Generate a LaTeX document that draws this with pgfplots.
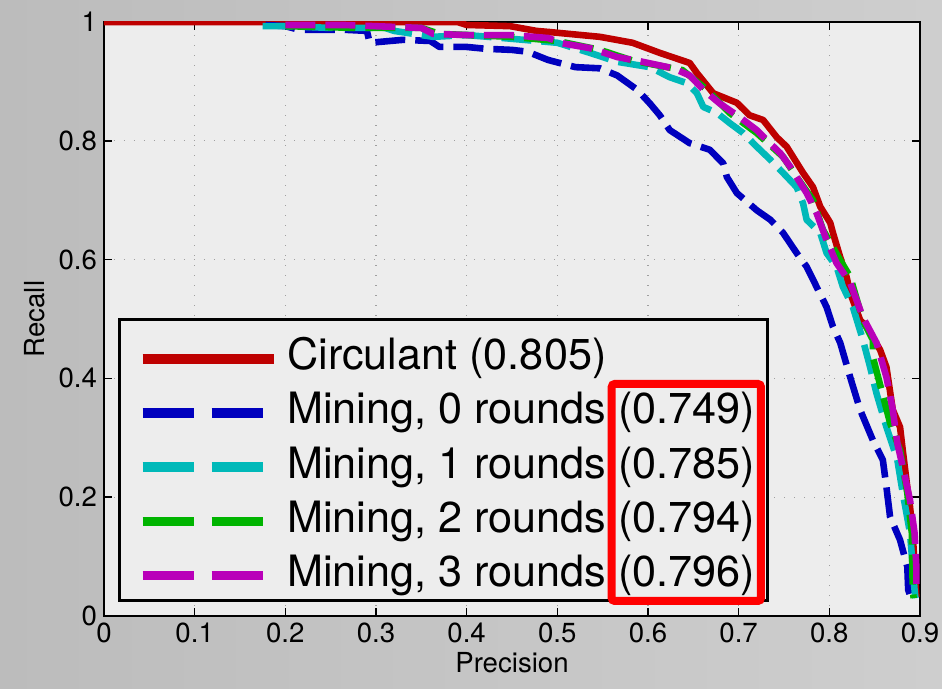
\documentclass[border=0pt]{standalone}
\usepackage{fontspec}
\setmainfont{TeX Gyre Heros}
\usepackage{pgfplots}
\pgfplotsset{compat=1.18}

\definecolor{cred}{RGB}{190,0,0}
\definecolor{cblue}{RGB}{0,0,190}
\definecolor{ccyan}{RGB}{0,185,185}
\definecolor{cgreen}{RGB}{0,180,0}
\definecolor{cmag}{RGB}{185,0,185}
\definecolor{bgL}{RGB}{188,188,188}
\definecolor{bgM}{RGB}{226,226,226}
\definecolor{bgR}{RGB}{206,206,206}

\pgfplotsset{
  dashleg/.style={legend image code/.code={
    \path (0pt,0pt);
    \draw[##1, line width=4.8pt, dash pattern=on 25.5pt off 9pt] (5pt,-3.5pt) -- (65pt,-3.5pt);}},
  solidleg/.style={legend image code/.code={
    \path (0pt,0pt);
    \draw[##1, line width=4.8pt, solid] (5pt,-3.5pt) -- (70.5pt,-3.5pt);}},
  curve/.style={line width=3.3pt, line join=round, mark=none},
  dcurve/.style={curve, dash pattern=on 15pt off 5pt},
}

\begin{document}
\begin{tikzpicture}
\shade[left color=bgL, middle color=bgM, right color=bgR] (-52pt,-36.5pt) rectangle (419pt,308pt);
\begin{axis}[
  scale only axis,
  width=408pt, height=297pt,
  xmin=0, xmax=0.9, ymin=0, ymax=1,
  xtick={0,0.1,0.2,0.3,0.4,0.5,0.6,0.7,0.8,0.9},
  ytick={0,0.2,0.4,0.6,0.8,1},
  tick align=inside, tick pos=both,
  major tick length=4pt,
  every tick/.style={black, line width=0.8pt},
  axis line style={black, line width=1pt},
  axis background/.style={fill=gray!14},
  grid=major,
  major grid style={gray!75, line width=0.6pt, dash pattern=on 0.6pt off 4.4pt},
  tick label style={font=\fontsize{13.8}{16}\selectfont},
  label style={font=\fontsize{13.8}{16}\selectfont},
  /pgf/number format/assume math mode=true,
  xlabel={Precision}, ylabel={Recall},
  xlabel style={yshift=2pt},
  legend cell align=left,
  legend style={at={(0.0171,0.0236)}, anchor=south west, draw=black,
    line width=1.3pt, fill=gray!14, inner xsep=5pt, inner ysep=5pt,
    row sep=5pt, font=\fontsize{21.6}{25}\selectfont,
    nodes={inner sep=1pt, text height=19pt, text depth=1.1pt},
    /tikz/every odd column/.append style={column sep=3.5pt}},
]
\addplot[cred, curve, solidleg] coordinates {
(0,1) (0.39,1) (0.40,0.995) (0.448,0.993) (0.477,0.985) (0.492,0.983) (0.547,0.975)
(0.583,0.965) (0.613,0.948) (0.646,0.931) (0.654,0.914) (0.672,0.88) (0.698,0.864)
(0.712,0.843) (0.727,0.835) (0.742,0.806) (0.753,0.79) (0.771,0.746) (0.782,0.722)
(0.790,0.689) (0.801,0.662) (0.804,0.645) (0.812,0.604) (0.819,0.571) (0.823,0.544)
(0.834,0.498) (0.841,0.487) (0.856,0.448) (0.863,0.419) (0.870,0.347) (0.878,0.318)
(0.881,0.279) (0.886,0.217) (0.889,0.184) (0.892,0.14) (0.894,0.083) (0.896,0.032)
};
\addlegendentry{Circulant (0.805)}
\addplot[cblue, dcurve, dashleg] coordinates {
(0.178,0.995) (0.20,0.993) (0.215,0.987) (0.264,0.987) (0.29,0.985) (0.293,0.965)
(0.33,0.97) (0.36,0.968) (0.37,0.958) (0.40,0.958) (0.42,0.955) (0.45,0.953)
(0.467,0.95) (0.49,0.936) (0.52,0.924) (0.547,0.922) (0.566,0.91) (0.588,0.886)
(0.602,0.863) (0.613,0.843) (0.624,0.818) (0.646,0.796) (0.668,0.785) (0.683,0.762)
(0.687,0.739) (0.698,0.712) (0.72,0.683) (0.735,0.667) (0.749,0.645) (0.764,0.611)
(0.775,0.588) (0.786,0.554) (0.797,0.52) (0.804,0.487) (0.812,0.46) (0.823,0.402)
(0.834,0.347) (0.848,0.296) (0.859,0.263) (0.863,0.217) (0.867,0.167) (0.878,0.128)
(0.886,0.083) (0.887,0.044) (0.89,0.03)
};
\addlegendentry{Mining, 0 rounds (0.749)}
\addplot[ccyan, dcurve, dashleg] coordinates {
(0.175,0.993) (0.20,0.993) (0.25,0.99) (0.31,0.99) (0.32,0.985) (0.363,0.975)
(0.40,0.978) (0.44,0.973) (0.50,0.965) (0.536,0.948) (0.566,0.933) (0.602,0.924)
(0.624,0.907) (0.643,0.897) (0.654,0.88) (0.661,0.857) (0.676,0.847) (0.69,0.83)
(0.705,0.813) (0.72,0.79) (0.735,0.768) (0.749,0.746) (0.764,0.722) (0.771,0.695)
(0.775,0.667) (0.79,0.645) (0.797,0.611) (0.808,0.588) (0.815,0.554) (0.826,0.52)
(0.837,0.465) (0.845,0.419) (0.852,0.375) (0.863,0.318) (0.875,0.263) (0.881,0.207)
(0.889,0.14) (0.892,0.083) (0.894,0.044) (0.895,0.03)
};
\addlegendentry{Mining, 1 rounds (0.785)}
\addplot[cgreen, dcurve, dashleg] coordinates {
(0.2,0.993) (0.28,0.99) (0.35,0.99) (0.37,0.98) (0.45,0.975) (0.50,0.968)
(0.547,0.953) (0.583,0.935) (0.638,0.919) (0.665,0.886) (0.69,0.847) (0.72,0.813)
(0.749,0.773) (0.764,0.739) (0.782,0.70) (0.793,0.65) (0.812,0.599) (0.823,0.571)
(0.837,0.498) (0.848,0.465) (0.848,0.436) (0.867,0.325) (0.878,0.279) (0.886,0.207)
(0.891,0.14) (0.892,0.044) (0.893,0.03)
};
\addlegendentry{Mining, 2 rounds (0.794)}
\addplot[cmag, dcurve, dashleg] coordinates {
(0.2,0.995) (0.264,0.995) (0.35,0.99) (0.363,0.98) (0.40,0.978) (0.448,0.978)
(0.49,0.973) (0.506,0.964) (0.536,0.956) (0.566,0.941) (0.594,0.933) (0.628,0.922)
(0.646,0.91) (0.661,0.886) (0.679,0.863) (0.701,0.84) (0.72,0.818) (0.731,0.801)
(0.746,0.779) (0.757,0.756) (0.768,0.729) (0.775,0.712) (0.786,0.678) (0.797,0.633)
(0.808,0.594) (0.823,0.561) (0.837,0.503) (0.852,0.46) (0.863,0.402) (0.870,0.347)
(0.875,0.291) (0.881,0.251) (0.889,0.195) (0.894,0.14) (0.896,0.083) (0.896,0.05)
};
\addlegendentry{Mining, 3 rounds (0.796)}
\coordinate (rb1) at (axis cs:0.560,0.0253);
\coordinate (rb2) at (axis cs:0.7246,0.3906);
\end{axis}
\draw[red, line width=4pt, rounded corners=1.5pt] (rb1) rectangle (rb2);
\pgfresetboundingbox
\path (-52pt,-36.5pt) rectangle (419pt,308pt);
\end{tikzpicture}
\end{document}
